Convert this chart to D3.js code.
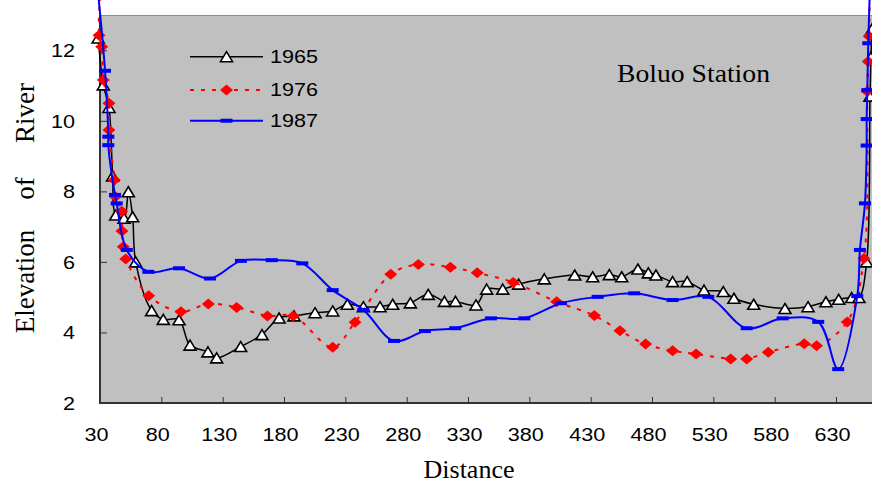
<!DOCTYPE html>
<html>
<head>
<meta charset="utf-8">
<script src="https://cdn.jsdelivr.net/npm/d3@7/dist/d3.min.js"></script>
<style>
  html, body { margin: 0; padding: 0; background: #fff; }
  svg { display: block; }
</style>
</head>
<body>
<svg id="chart" width="872" height="484"></svg>
<script>
// ---------------- data ----------------
const seriesNames = ["1965", "1976", "1987"];
const xTickValues = [30, 80, 130, 180, 230, 280, 330, 380, 430, 480, 530, 580, 630];
const yTickValues = [2, 4, 6, 8, 10, 12];

const data1965 = [
  [28.5, 12.35], [32.7, 11.02], [37.3, 10.38], [40.3, 8.44], [42.8, 7.33], [49.6, 7.24],
  [53.1, 7.99], [56.6, 7.28], [59.1, 6.0], [72.1, 4.62], [81.6, 4.37], [94.4, 4.36],
  [103.4, 3.64], [118, 3.45], [125.1, 3.28], [144.7, 3.6], [162.1, 3.94], [176, 4.41],
  [188.2, 4.47], [205.3, 4.56], [219.7, 4.61], [231.6, 4.80], [244.7, 4.73], [258.3, 4.73],
  [268.6, 4.80], [283, 4.84], [297.6, 5.08], [310.8, 4.88], [319.8, 4.88], [336.5, 4.78],
  [345.2, 5.23], [358.3, 5.23], [371.3, 5.37], [392.2, 5.52], [417, 5.63], [431.6, 5.58],
  [445.2, 5.64], [455.3, 5.58], [468.5, 5.80], [477, 5.69], [483.2, 5.63], [496.8, 5.44],
  [508.7, 5.44], [522.4, 5.20], [538.1, 5.16], [546.8, 4.97], [562.9, 4.80], [588.4, 4.68],
  [607.2, 4.73], [621.8, 4.87], [632.2, 4.94], [642.8, 4.99], [648.7, 4.99], [655, 6.0],
  [657.7, 10.7], [658.5, 11.8], [659.2, 12.6]
];

const data1976 = [
  [30, 13.55], [29.2, 12.43], [31.4, 12.1], [32.7, 11.16], [37.3, 10.5], [37.3, 9.74],
  [41.7, 8.32], [42.5, 7.85], [47.7, 7.44], [47.9, 6.88], [49, 6.43], [51, 6.08],
  [69.7, 5.04], [96, 4.59], [118.3, 4.81], [141.4, 4.71], [166.5, 4.47], [187.5, 4.47],
  [219.7, 3.58], [237.9, 4.29], [267, 5.65], [289.5, 5.93], [315.6, 5.85], [337.5, 5.69],
  [366.9, 5.42], [402.3, 4.87], [433, 4.48], [453.9, 4.05], [474.8, 3.67], [496.8, 3.48],
  [515.9, 3.39], [544.1, 3.25], [557.2, 3.25], [574.8, 3.44], [604.1, 3.68], [614.2, 3.62],
  [639.2, 4.30], [652.8, 6.10], [655.5, 10.83], [656.3, 11.68], [657, 12.4], [657.5, 13.6]
];

const data1987 = [
  [28.5, 13.6], [34.1, 11.42], [36.8, 9.55], [36.8, 9.31], [42.2, 7.90], [43.6, 7.66],
  [51.8, 6.34], [69.4, 5.72], [94.4, 5.82], [119.7, 5.53], [144.9, 6.03], [170, 6.05],
  [194.9, 5.96], [219.7, 5.20], [244.7, 4.64], [269.7, 3.76], [294.9, 4.04], [319.6, 4.12],
  [348.7, 4.40], [375.9, 4.40], [405.8, 4.83], [435.7, 5.01], [465.5, 5.11], [496.8, 4.92],
  [525.9, 5.01], [557.2, 4.12], [586.5, 4.40], [615.5, 4.30], [631.8, 2.96], [647.3, 5.03],
  [649.5, 6.34], [653.6, 7.66], [655, 9.30], [655, 10.05], [655.5, 10.87], [656.3, 12.2],
  [657.5, 13.6]
];

// ---------------- layout ----------------
const svg = d3.select("#chart");
const plot = { left: 100, top: 15, bottom: 403, right: 900 };
const x = d3.scaleLinear().domain([30, 630]).range([100, 836]);
const y = d3.scaleLinear().domain([2, 12]).range([403, 50.3]);

// plot background
svg.append("rect")
  .attr("x", plot.left).attr("y", plot.top)
  .attr("width", plot.right - plot.left).attr("height", plot.bottom - plot.top)
  .attr("fill", "#c0c0c0");
svg.append("line")
  .attr("x1", plot.left).attr("x2", plot.right)
  .attr("y1", plot.top + 0.5).attr("y2", plot.top + 0.5)
  .attr("stroke", "#8c8c8c").attr("stroke-width", 1);

// axes
const xAxis = d3.axisBottom(x).tickValues(xTickValues.concat([680])).tickSize(-6).tickFormat("");
const gx = svg.append("g").attr("transform", `translate(0,${plot.bottom})`).call(xAxis);
gx.select(".domain").remove();
gx.selectAll(".tick line").attr("stroke", "#333").attr("stroke-width", 1);

const yAxis = d3.axisLeft(y).tickValues(yTickValues.slice(1)).tickSize(-7).tickFormat("");
const gy = svg.append("g").attr("transform", `translate(${plot.left},0)`).call(yAxis);
gy.select(".domain").remove();
gy.selectAll(".tick line").attr("stroke", "#333").attr("stroke-width", 1);

svg.append("line").attr("x1", plot.left).attr("x2", plot.left)
  .attr("y1", plot.top).attr("y2", plot.bottom + 1)
  .attr("stroke", "#333").attr("stroke-width", 2);
svg.append("line").attr("x1", plot.left - 1).attr("x2", plot.right)
  .attr("y1", plot.bottom).attr("y2", plot.bottom)
  .attr("stroke", "#333").attr("stroke-width", 2);

// tick labels
const sans = "'Liberation Sans', Arial, sans-serif";
svg.append("g").selectAll("text").data(xTickValues).join("text")
  .attr("x", d => x(d) - 3.5).attr("y", 441)
  .attr("text-anchor", "middle")
  .attr("font-family", sans).attr("font-size", 19)
  .attr("textLength", d => String(d).length * 12).attr("lengthAdjust", "spacingAndGlyphs")
  .attr("fill", "#000")
  .text(d => d);
svg.append("g").selectAll("text").data(yTickValues).join("text")
  .attr("x", 75).attr("y", d => y(d) + 7)
  .attr("text-anchor", "end")
  .attr("font-family", sans).attr("font-size", 19)
  .attr("textLength", d => String(d).length * 12).attr("lengthAdjust", "spacingAndGlyphs")
  .attr("fill", "#000")
  .text(d => d);

// axis titles
const serif = "'Liberation Serif', 'Times New Roman', serif";
svg.append("text").attr("x", 469).attr("y", 478)
  .attr("text-anchor", "middle").attr("font-family", serif).attr("font-size", 26)
  .text("Distance");
const yTitle = [["Elevation", 281.5], ["of", 188.5], ["River", 113]];
yTitle.forEach(([t, cy]) => {
  svg.append("text")
    .attr("transform", `translate(34,${cy}) rotate(-90)`)
    .attr("text-anchor", "middle").attr("font-family", serif).attr("font-size", 27)
    .text(t);
});
svg.append("text").attr("x", 617).attr("y", 82)
  .attr("font-family", serif).attr("font-size", 26)
  .attr("textLength", 153).attr("lengthAdjust", "spacingAndGlyphs")
  .text("Boluo Station");

// markers
const triPath = "M0,-5L6,5L-6,5Z";
const diaPath = "M0,-5.5L6.5,0L0,5.5L-6.5,0Z";
function drawMarker(g, type, px, py) {
  if (type === 0) {
    g.append("path").attr("d", triPath).attr("transform", `translate(${px},${py})`)
      .attr("fill", "#fff").attr("stroke", "#000").attr("stroke-width", 1.6)
      .attr("stroke-linejoin", "miter");
  } else if (type === 1) {
    g.append("path").attr("d", diaPath).attr("transform", `translate(${px},${py})`)
      .attr("fill", "#ff0000");
  } else {
    g.append("rect").attr("x", px - 6).attr("y", py - 2).attr("width", 12).attr("height", 4)
      .attr("fill", "#0000ff");
  }
}

const styles = [
  { color: "#000", width: 1.5, dash: null },
  { color: "#ff0000", width: 2, dash: "4,7" },
  { color: "#0000ff", width: 2, dash: null }
];
const allData = [data1965, data1976, data1987];
const line = d3.line().x(d => x(d[0])).y(d => y(d[1])).curve(d3.curveCatmullRom.alpha(0.5));

allData.forEach((ds, i) => {
  const g = svg.append("g");
  g.append("path").datum(ds).attr("d", line)
    .attr("fill", "none").attr("stroke", styles[i].color)
    .attr("stroke-width", styles[i].width)
    .attr("stroke-dasharray", styles[i].dash);
  ds.forEach(d => drawMarker(g, i, x(d[0]), y(d[1])));
});

// legend
const legendRows = [56.7, 90, 120.7];
seriesNames.forEach((name, i) => {
  const g = svg.append("g");
  const ly = legendRows[i];
  g.append("line").attr("x1", 190).attr("x2", 263).attr("y1", ly).attr("y2", ly)
    .attr("stroke", styles[i].color).attr("stroke-width", styles[i].width)
    .attr("stroke-dasharray", styles[i].dash);
  drawMarker(g, i, 226.5, ly);
  g.append("text").attr("x", 270).attr("y", ly + 6)
    .attr("font-family", sans).attr("font-size", 19)
    .attr("textLength", 48).attr("lengthAdjust", "spacingAndGlyphs")
    .text(name);
});
</script>
</body>
</html>
